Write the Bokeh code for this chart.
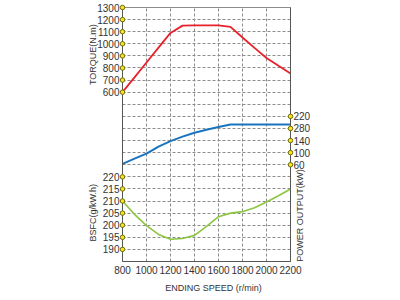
import math
from bokeh.plotting import figure
from bokeh.models import Range1d, LinearAxis, FixedTicker
from bokeh.core.properties import value
from bokeh.embed import file_html
from bokeh.resources import INLINE

# ---- data ----
speed = [800, 900, 1000, 1100, 1200, 1300, 1400, 1500, 1600, 1700, 1800, 1900, 2000, 2100, 2200]
torque = [600, 722, 845, 968, 1090, 1150, 1152, 1152, 1152, 1140, 1052, 966, 882, 818, 755]
power = [63, 80, 97, 120, 138, 153, 166, 176, 185, 193, 193, 193, 193, 193, 193]
bsfc = [210, 204.5, 199.8, 196.2, 194.2, 194.5, 195.8, 199.5, 203.5, 205, 205.6, 207.2, 209.6, 212.2, 215]

speed_ticks = [800, 1000, 1200, 1400, 1600, 1800, 2000, 2200]
torque_ticks = [600, 700, 800, 900, 1000, 1100, 1200, 1300]
bsfc_ticks = [190, 195, 200, 205, 210, 215, 220]
power_ticks = [60, 100, 140, 180, 220]
power_tick_labels = ["60", "100", "140", "280", "220"]

FONT = "Liberation Sans"
TXT = "#333333"

# one grid step = 100 N.m = 5 g/kW.h = 40 kW ; 21 steps high
torque_range = Range1d(-800, 1300)
bsfc_range = Range1d(185, 290)
power_range = Range1d(-260, 580)

p = figure(width=400, height=300, output_backend="svg", toolbar_location=None,
           x_range=Range1d(800, 2200), y_range=torque_range,
           min_border_left=122, min_border_right=110, min_border_top=7, min_border_bottom=39)
p.extra_y_ranges = {"bsfc": bsfc_range, "power": power_range}
p.background_fill_color = "white"
p.border_fill_color = "white"
p.outline_line_color = "#8c8c8c"

# left axis: torque ticks + bsfc ticks (mapped onto the same grid)
step_b = 100 / 5.0
left_pos = [t for t in torque_ticks] + [-800 + (b - 185) * step_b for b in bsfc_ticks]
left_over = {int(-800 + (b - 185) * step_b): str(b) for b in bsfc_ticks}
p.yaxis.ticker = FixedTicker(ticks=left_pos)
p.yaxis.major_label_overrides = left_over

pr = LinearAxis(y_range_name="power", ticker=FixedTicker(ticks=power_ticks))
pr.major_label_overrides = {t: l for t, l in zip(power_ticks, power_tick_labels)}
p.add_layout(pr, "right")

for ax in [p.yaxis[0], pr, p.xaxis[0]]:
    ax.major_tick_line_color = None
    ax.minor_tick_line_color = None
    ax.major_tick_out = 0
    ax.major_tick_in = 0
    ax.axis_line_color = "#555555"
    ax.major_label_text_font = FONT
    ax.major_label_text_font_size = "10px"
    ax.major_label_text_color = TXT
    ax.major_label_standoff = 3
p.xaxis.ticker = FixedTicker(ticks=speed_ticks)
p.xaxis.major_label_standoff = 4

# grid: dashed, every step
p.ygrid.ticker = FixedTicker(ticks=list(range(-800, 1301, 100)))
p.xgrid.ticker = FixedTicker(ticks=speed_ticks)
for g in [p.xgrid[0], p.ygrid[0]]:
    g.grid_line_color = "#8c8c8c"
    g.grid_line_dash = "3 2"
    g.grid_line_width = 1

# series
p.line(speed, torque, line_color="#e8212b", line_width=1.8)
p.line(speed, power, y_range_name="power", line_color="#1a74bd", line_width=2)
p.line(speed, bsfc, y_range_name="bsfc", line_color="#8cc63f", line_width=1.6)

# yellow tick dots on the axes
dot = dict(size=4.5, fill_color="#f4e81a", line_color="#6e6a10", line_width=1, level="overlay")
p.scatter([800] * len(torque_ticks), torque_ticks, **dot)
p.scatter([800] * len(bsfc_ticks), bsfc_ticks, y_range_name="bsfc", **dot)
p.scatter([2200] * len(power_ticks), power_ticks, y_range_name="power", **dot)

# axis titles
lab = dict(text_font=value(FONT), text_font_size="9px", text_color=TXT,
           text_align="center", text_baseline="middle", level="overlay")
p.text(x=[550], y=[911], text=["TORQUE(N.m)"], angle=math.pi / 2, **lab)
p.text(x=[550], y=[205.2], y_range_name="bsfc", text=["BSFC(g/kW.h)"], angle=math.pi / 2, **lab)
p.text(x=[2283], y=[-108], y_range_name="power", text=["POWER OUTPUT(kW)"], angle=math.pi / 2, **lab)
p.text(x=[1558], y=[-1023], text=["ENDING SPEED (r/min)"], **lab)

open("out.html", "w").write(file_html(p, INLINE))
